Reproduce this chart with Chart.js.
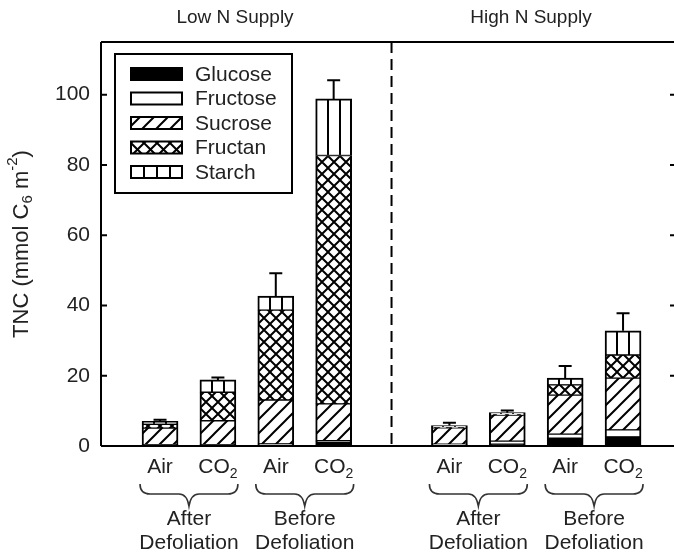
<!DOCTYPE html>
<html>
<head>
<meta charset="utf-8">
<script src="https://cdn.jsdelivr.net/npm/chart.js@4.4.1/dist/chart.umd.min.js"></script>
<style>
  html, body { margin: 0; padding: 0; background: #fff; overflow: hidden; }
  #wrap { width: 674px; height: 554px; overflow: hidden; position: relative; }
  canvas { display: block; }
</style>
</head>
<body>
<div id="wrap"><canvas id="tnc" width="680" height="554"></canvas></div>
<script>
// bar slots on the x axis (slot 5 is the gap between the two panels)
const positions = [1, 2, 3, 4, 6, 7, 8, 9];
const treatments = ['Air', 'CO2', 'Air', 'CO2', 'Air', 'CO2', 'Air', 'CO2'];

// TNC components (mmol C6 m-2), order: Low N after, Low N before, High N after, High N before
const glucose  = [0.1, 0.1, 0.3, 1.2, 0.2, 0.5, 2.2, 2.6];
const fructose = [0.3, 0.3, 0.3, 0.3, 0.3, 0.9, 1.2, 2.0];
const sucrose  = [4.7, 6.8, 12.5, 10.5, 4.7, 7.4, 11.1, 14.7];
const fructan  = [1.1, 8.1, 25.6, 70.7, 0.2, 0.3, 2.9, 6.6];
const starch   = [0.8, 3.5, 4.0, 16.1, 0.4, 0.4, 1.9, 6.9];
const errors   = [0.5, 0.7, 6.5, 5.3, 0.8, 0.6, 3.5, 5.0];

const seriesNames = ['Glucose', 'Fructose', 'Sucrose', 'Fructan', 'Starch'];
const groupPairs = [[1, 2], [3, 4], [6, 7], [8, 9]];
const groupLabels = [['After', 'Defoliation'], ['Before', 'Defoliation'], ['After', 'Defoliation'], ['Before', 'Defoliation']];
const panelTitles = ['Low N Supply', 'High N Supply'];
const panelTitleX = [235, 531];
const yTicks = [0, 20, 40, 60, 80, 100];

const FONT = "'Liberation Sans', Arial, sans-serif";
const TEXT = '#222';
const BAR_W = 36;

Chart.defaults.font.family = FONT;
Chart.defaults.font.size = 21;
Chart.defaults.color = TEXT;

const patternCache = {};
function makePattern(kind, ox, size) {
    const key = kind + ':' + ox + ':' + size;
    if (patternCache[key]) return patternCache[key];
    const tile = document.createElement('canvas');
    tile.width = size; tile.height = size;
    const g = tile.getContext('2d');
    g.fillStyle = '#fff';
    g.fillRect(0, 0, size, size);
    g.strokeStyle = '#000';
    g.fillStyle = '#000';
    g.lineWidth = 2;
    if (kind === 'sucrose') {
        g.beginPath();
        g.moveTo(-2, size + 2); g.lineTo(size + 2, -2);
        g.moveTo(-2, 2); g.lineTo(2, -2);
        g.moveTo(size - 2, size + 2); g.lineTo(size + 2, size - 2);
        g.stroke();
    } else if (kind === 'fructan') {
        g.beginPath();
        g.moveTo(-1, -1); g.lineTo(size + 1, size + 1);
        g.moveTo(-1, size + 1); g.lineTo(size + 1, -1);
        g.stroke();
    } else if (kind === 'starch') {
        g.fillRect(0, 0, 1, size);
        g.fillRect(size - 1, 0, 1, size);
    }
    const p = g.createPattern(tile, 'repeat');
    p.setTransform(new DOMMatrix([1, 0, 0, 1, ox, 0]));
    patternCache[key] = p;
    return p;
}

function barFill(kind) {
    if (kind === 'glucose') return '#000';
    if (kind === 'fructose') return '#fff';
    return (ctx) => {
        const xs = ctx.chart.scales.x;
        if (!xs || ctx.dataIndex === undefined) return '#fff';
        const left = Math.round(xs.getPixelForValue(positions[ctx.dataIndex]) - BAR_W / 2);
        return makePattern(kind, left, kind === 'sucrose' ? 14 : 12);
    };
}

function toPoints(values) {
    return values.map((v, i) => ({ x: positions[i], y: v }));
}

const seriesValues = [glucose, fructose, sucrose, fructan, starch];
const datasets = seriesValues.map((vals, k) => {
    const kind = seriesNames[k].toLowerCase();
    return {
        label: seriesNames[k],
        data: toPoints(vals),
        backgroundColor: barFill(kind),
        borderColor: '#000',
        borderWidth: { left: 2, right: 2, top: kind === 'starch' ? 2 : 1, bottom: 1 },
        borderSkipped: false,
        barThickness: BAR_W
    };
});

function drawSubText(ctx, parts, x, y, align) {
    // parts: [text, size, dy]
    let total = 0;
    parts.forEach(p => { ctx.font = p[1] + 'px ' + FONT; total += ctx.measureText(p[0]).width; });
    let cx = align === 'center' ? x - total / 2 : x;
    ctx.textAlign = 'left';
    ctx.textBaseline = 'middle';
    parts.forEach(p => {
        ctx.font = p[1] + 'px ' + FONT;
        ctx.fillText(p[0], cx, y + p[2]);
        cx += ctx.measureText(p[0]).width;
    });
}

function drawBrace(ctx, x0, x1, top) {
    const mid = (x0 + x1) / 2, r = 10, h = 10, tip = 12;
    ctx.beginPath();
    ctx.moveTo(x0, top);
    ctx.quadraticCurveTo(x0, top + h, x0 + r, top + h);
    ctx.lineTo(mid - r, top + h);
    ctx.quadraticCurveTo(mid - 2, top + h, mid, top + h + tip);
    ctx.quadraticCurveTo(mid + 2, top + h, mid + r, top + h);
    ctx.lineTo(x1 - r, top + h);
    ctx.quadraticCurveTo(x1, top + h, x1, top);
    ctx.stroke();
}

const decorations = {
    id: 'decorations',
    afterDatasetsDraw(chart) {
        const ctx = chart.ctx;
        const xs = chart.scales.x, ys = chart.scales.y;
        const area = chart.chartArea;
        ctx.save();
        ctx.strokeStyle = '#000';
        ctx.lineWidth = 2;

        // error bars on top of each stack
        positions.forEach((p, i) => {
            const total = seriesValues.reduce((s, arr) => s + arr[i], 0);
            const cx = xs.getPixelForValue(p);
            const y0 = ys.getPixelForValue(total);
            const y1 = ys.getPixelForValue(total + errors[i]);
            ctx.beginPath();
            ctx.moveTo(cx, y0); ctx.lineTo(cx, y1);
            ctx.moveTo(cx - 6.5, y1); ctx.lineTo(cx + 6.5, y1);
            ctx.stroke();
        });

        // frame
        ctx.beginPath();
        ctx.moveTo(area.left, area.top); ctx.lineTo(area.right, area.top);
        ctx.moveTo(area.left, area.top); ctx.lineTo(area.left, area.bottom);
        ctx.moveTo(area.left, area.bottom); ctx.lineTo(area.right, area.bottom);
        ctx.moveTo(area.right, area.top); ctx.lineTo(area.right, area.bottom);
        ctx.stroke();

        // inward ticks on both sides
        yTicks.forEach(t => {
            const y = ys.getPixelForValue(t);
            ctx.beginPath();
            ctx.moveTo(area.left, y); ctx.lineTo(area.left + 6, y);
            ctx.moveTo(area.right, y); ctx.lineTo(area.right - 6, y);
            ctx.stroke();
        });

        // dashed panel divider
        const dx = xs.getPixelForValue(5);
        ctx.setLineDash([11, 6]);
        ctx.beginPath();
        ctx.moveTo(dx, area.top); ctx.lineTo(dx, area.bottom);
        ctx.stroke();
        ctx.setLineDash([]);

        ctx.fillStyle = TEXT;
        // panel titles
        ctx.font = '19px ' + FONT;
        ctx.textAlign = 'center';
        ctx.textBaseline = 'middle';
        panelTitles.forEach((t, i) => ctx.fillText(t, panelTitleX[i], 18));

        // treatment labels
        treatments.forEach((t, i) => {
            const cx = xs.getPixelForValue(positions[i]);
            if (t === 'CO2') drawSubText(ctx, [['CO', 21, 0], ['2', 14, 7]], cx, 467, 'center');
            else drawSubText(ctx, [[t, 21, 0]], cx, 467, 'center');
        });

        // braces and group labels
        ctx.strokeStyle = '#333';
        ctx.lineWidth = 1.6;
        groupPairs.forEach((pair, i) => {
            const x0 = xs.getPixelForValue(pair[0]) - 20;
            const x1 = xs.getPixelForValue(pair[1]) + 20;
            drawBrace(ctx, x0, x1, 484);
            const cx = (x0 + x1) / 2;
            ctx.font = '21px ' + FONT;
            ctx.textAlign = 'center';
            ctx.textBaseline = 'middle';
            ctx.fillText(groupLabels[i][0], cx, 519);
            ctx.fillText(groupLabels[i][1], cx, 543);
        });

        // y axis title
        ctx.save();
        ctx.translate(22, (area.top + area.bottom) / 2);
        ctx.rotate(-Math.PI / 2);
        drawSubText(ctx, [['TNC (mmol C', 22, 0], ['6', 15, 6], [' m', 22, 0], ['-2', 15, -9], [')', 22, 0]], 0, 0, 'center');
        ctx.restore();

        // legend
        const lx = 115, ly = 54, lw = 177, lh = 139;
        ctx.fillStyle = '#fff';
        ctx.fillRect(lx, ly, lw, lh);
        ctx.strokeStyle = '#000';
        ctx.lineWidth = 2;
        ctx.strokeRect(lx, ly, lw, lh);
        seriesNames.forEach((name, k) => {
            const cy = 74 + k * 24.5;
            const sx = 131, sw = 51, sh = 12;
            const kind = name.toLowerCase();
            let fill = '#fff';
            if (kind === 'glucose') fill = '#000';
            else if (kind !== 'fructose') fill = makePattern(kind, sx, kind === 'sucrose' ? 14 : 13);
            ctx.fillStyle = fill;
            ctx.fillRect(sx, cy - sh / 2, sw, sh);
            ctx.strokeRect(sx, cy - sh / 2, sw, sh);
            ctx.fillStyle = TEXT;
            ctx.font = '21px ' + FONT;
            ctx.textAlign = 'left';
            ctx.textBaseline = 'middle';
            ctx.fillText(name, 195, cy + 1);
        });
        ctx.restore();
    }
};

new Chart(document.getElementById('tnc'), {
    type: 'bar',
    data: { datasets: datasets },
    options: {
        responsive: false,
        animation: false,
        events: [],
        layout: { padding: { top: 42, bottom: 108, left: 0, right: 4 } },
        plugins: { legend: { display: false }, tooltip: { enabled: false } },
        scales: {
            x: {
                type: 'linear',
                stacked: true,
                offset: false,
                min: -0.02,
                max: 9.915,
                display: false
            },
            y: {
                stacked: true,
                min: 0,
                max: 115,
                grid: { display: false, drawTicks: false },
                border: { display: false },
                ticks: { stepSize: 20, includeBounds: false, padding: 11, color: TEXT, font: { size: 21 } },
                afterFit: (s) => { s.width = 101; }
            }
        }
    },
    plugins: [decorations]
});
</script>
</body>
</html>
